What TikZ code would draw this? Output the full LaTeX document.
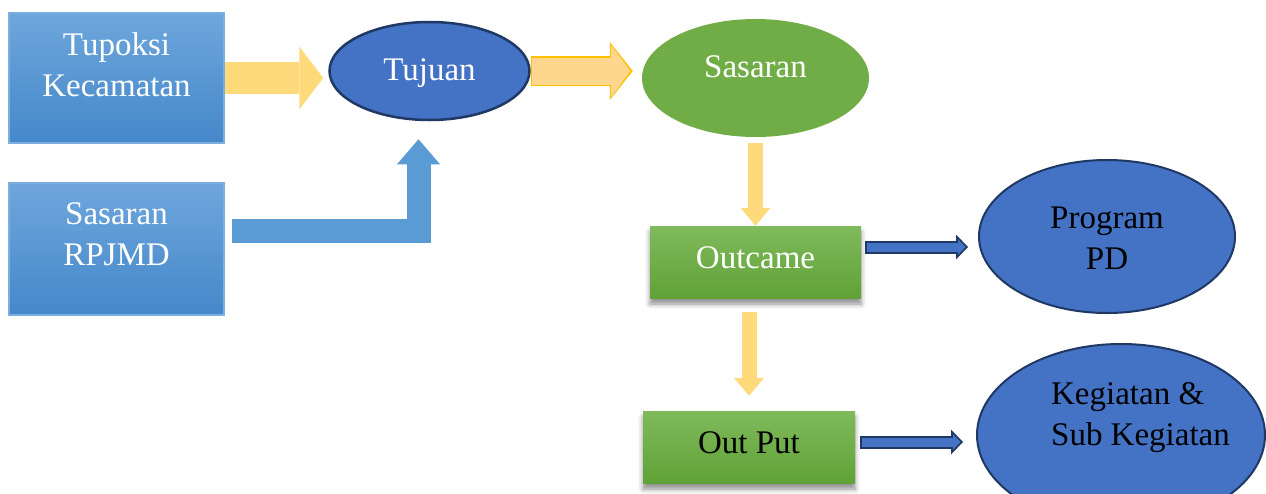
\documentclass[tikz,border=0pt]{standalone}
\usepackage{fontspec}
\setmainfont{Liberation Serif}
\usetikzlibrary{positioning, arrows.meta, shapes.geometric, shadows.blur}

\definecolor{boxtop}{HTML}{6EA6DC}
\definecolor{boxbot}{HTML}{4588CA}
\definecolor{boxedge}{HTML}{7DAEE0}
\definecolor{greentop}{HTML}{80BA5C}
\definecolor{greenbot}{HTML}{60A236}
\definecolor{leafgreen}{HTML}{70AD47}
\definecolor{ovalblue}{HTML}{4472C4}
\definecolor{navy}{HTML}{1F3864}
\definecolor{bendblue}{HTML}{5B9BD5}
\definecolor{sunyellow}{HTML}{FFDA7A}
\definecolor{peach}{HTML}{FFD68E}
\definecolor{amber}{HTML}{FFC000}

\newcommand\liftup[3][c]{\raisebox{#2}[\height][\depth]{\begin{tabular}{@{}#1@{}}#3\end{tabular}}}

\begin{document}
\begin{tikzpicture}[x=1pt, y=-1pt, on grid, font=\fontsize{33}{41}\selectfont,
    infobox/.style={rectangle, draw=boxedge, line width=1.5pt, top color=boxtop, bottom color=boxbot, text=white, minimum width=215pt, minimum height=130pt},
    stagebox/.style={rectangle, top color=greentop, bottom color=greenbot, minimum width=211pt, minimum height=72pt, blur shadow={shadow xshift=0pt, shadow yshift=-6pt, shadow blur radius=5pt, shadow opacity=45}},
    oval/.style={ellipse, draw=navy, line width=2pt, fill=ovalblue, inner sep=0pt},
    yarrow/.style={draw=sunyellow, line width=32pt, -{Triangle[width=63pt, length=24pt, line width=0pt 0 0]}},
    ydown/.style={draw=sunyellow, line width=15pt, -{Triangle[width=30pt, length=18pt, line width=0pt 0 0]}},
    bentarrow/.style={draw=bendblue, line width=24pt, line join=miter, -{Triangle[width=43pt, length=25pt, line width=0pt 0 0]}},
    amberarrow/.style={draw=peach, line width=27pt, -{Triangle[width=53pt, length=19.5pt, line width=0pt 0 0]}, shorten <=1.5pt, shorten >=#1+2.5pt,
        preaction={draw=amber, line width=30pt, -{Triangle[width=58pt, length=23pt, line width=0pt 0 0]}, shorten <=0pt, shorten >=#1}},
    navyarrow/.style={draw=ovalblue, line width=9pt, -{Triangle[width=15.6pt, length=7.5pt, line width=0pt 0 0]}, shorten <=2pt, shorten >=#1+2.5pt,
        preaction={draw=navy, line width=13pt, -{Triangle[width=25pt, length=12pt, line width=0pt 0 0]}, shorten <=0pt, shorten >=#1}}]

    \useasboundingbox (0,0) rectangle (1266,493);

    \node[infobox] (tupoksi) at (116.5,78) {\liftup{10pt}{Tupoksi\\Kecamatan}};
    \node[infobox, minimum height=132pt] (rpjmd) [below=171pt of tupoksi] {\liftup{12pt}{Sasaran\\RPJMD}};
    \node[oval, line width=2.5pt, text=white, minimum width=200pt, minimum height=98pt] (tujuan) [above right=7pt and 313pt of tupoksi] {\liftup{-1pt}{Tujuan}};
    \node[ellipse, fill=leafgreen, text=white, inner sep=0pt, minimum width=227pt, minimum height=118pt] (sasaran) [below right=7pt and 326pt of tujuan] {\liftup{9pt}{Sasaran}};
    \node[stagebox, text=white] (outcame) [below=184pt of sasaran] {\liftup{2pt}{Outcame}};
    \node[stagebox, minimum width=212pt] (output) [below left=185pt and 6.5pt of outcame] {\liftup{2pt}{Out Put}};
    \node[oval, minimum width=256pt, minimum height=153pt] (program) [above right=25.5pt and 351.5pt of outcame] {\liftup{-4pt}{Program\\PD}};
    \node[oval, minimum width=288pt, minimum height=182pt] (kegiatan) [above right=12pt and 372pt of output] {\makebox[0pt]{\hspace*{39pt}\liftup[l]{18pt}{Kegiatan \&\\Sub Kegiatan}}};

    \draw[yarrow, shorten >=5pt] (tupoksi.east) -- (tujuan.west |- tupoksi.east);
    \draw[bentarrow, shorten <=7pt, shorten >=18pt] ([yshift=18pt]rpjmd.east) -| ([xshift=-11pt]tujuan.south);
    \draw[amberarrow=9pt] (tujuan.east) -- (sasaran.west |- tujuan.east);
    \draw[ydown, shorten <=6pt] (sasaran.south -| outcame.north) -- (outcame.north);
    \draw[ydown, shorten <=14pt, shorten >=15pt] (outcame.south -| output.north) -- (output.north);
    \draw[navyarrow=10pt] ([shift={(4,-15)}]outcame.east) -- ([yshift=-10.5pt]program.west);
    \draw[navyarrow=13pt] ([shift={(5,-5)}]output.east) -- ([yshift=-7pt]kegiatan.west);
\end{tikzpicture}
\end{document}
